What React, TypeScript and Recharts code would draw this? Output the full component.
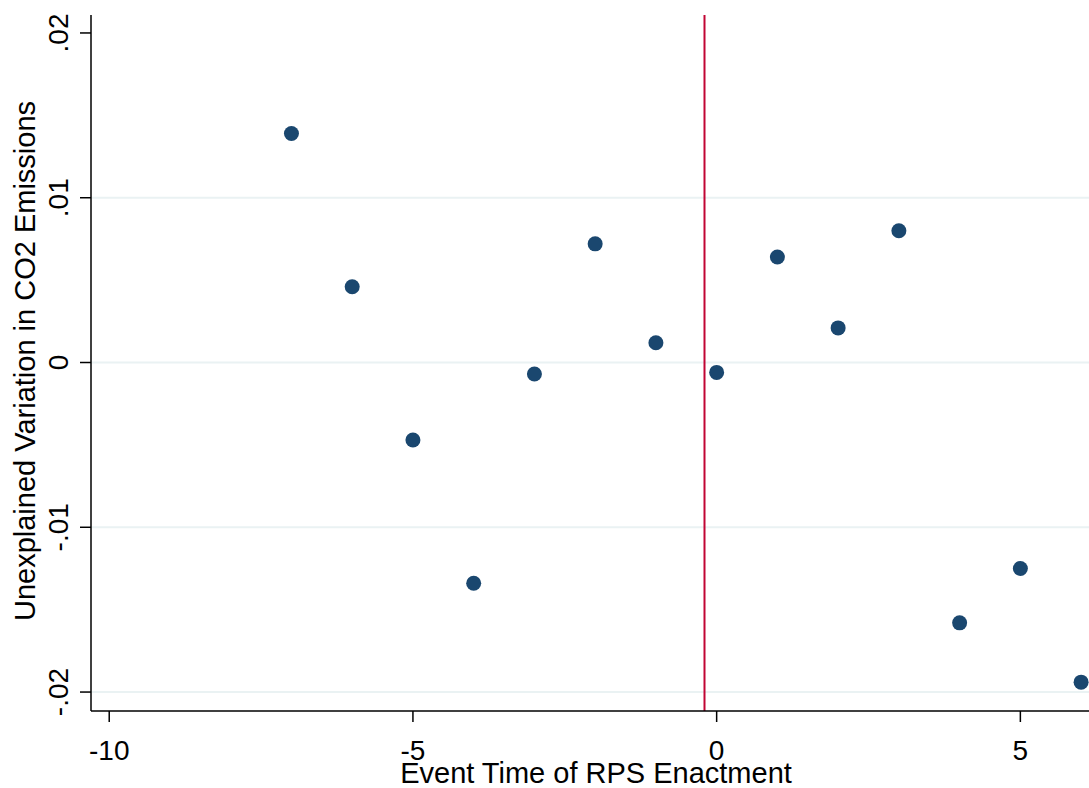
import React from 'react';
import { ScatterChart, Scatter, XAxis, YAxis, ReferenceLine } from 'recharts';

// Event time (years relative to RPS enactment)
const eventTimes = [-7, -6, -5, -4, -3, -2, -1, 0, 1, 2, 3, 4, 5, 6];
// Unexplained variation in CO2 emissions
const residuals = [
    0.0139, 0.0046, -0.0047, -0.0134, -0.0007, 0.0072, 0.0012,
    -0.0006, 0.0064, 0.0021, 0.0080, -0.0158, -0.0125, -0.0194,
];

const xTicks = [-10, -5, 0, 5];
const yTicks = [-0.02, -0.01, 0, 0.01, 0.02];
const yTickLabels = ['-.02', '-.01', '0', '.01', '.02'];
const gridValues = [-0.02, -0.01, 0, 0.01];
const enactmentLine = -0.2;

const FONT = '"Liberation Sans", Arial, Helvetica, sans-serif';
const NAVY = '#1a476f';

const data = eventTimes.map((t, i) => ({ t, v: residuals[i] }));

const XTick = ({ x, y, payload }: any) => (
    <g>
        <line x1={x} x2={x} y1={y - 8} y2={y + 3} stroke="#000" strokeWidth={1.5} />
        <text x={x} y={y + 41} textAnchor="middle" fontSize={28} fontFamily={FONT} fill="#000">
            {payload.value}
        </text>
    </g>
);

const YTick = ({ x, y, payload }: any) => {
    const idx = yTicks.indexOf(payload.value);
    const label = idx >= 0 ? yTickLabels[idx] : String(payload.value);
    return (
        <g>
            <line x1={x - 3} x2={x + 8} y1={y} y2={y} stroke="#000" strokeWidth={1.5} />
            <text
                x={0}
                y={0}
                transform={`translate(${x - 15}, ${y}) rotate(-90)`}
                textAnchor="middle"
                fontSize={28}
                fontFamily={FONT}
                fill="#000"
            >
                {label}
            </text>
        </g>
    );
};

const Dot = ({ cx, cy }: any) => <circle cx={cx} cy={cy} r={7.5} fill={NAVY} />;

export default function App() {
    return (
        <div style={{ position: 'absolute', left: 0, top: 0, width: 1089, height: 788, background: '#fff' }}>
            <ScatterChart width={1089} height={788} margin={{ top: 15, right: 0, bottom: 0, left: 0 }}>
                {gridValues.map((g) => (
                    <ReferenceLine key={`g${g}`} y={g} stroke="#eaf2f3" strokeWidth={2} />
                ))}
                <XAxis
                    type="number"
                    dataKey="t"
                    domain={[-10.3, 6.13]}
                    ticks={xTicks}
                    allowDataOverflow
                    height={77}
                    axisLine={{ stroke: '#000', strokeWidth: 1.5 }}
                    tickLine={false}
                    tick={<XTick />}
                    interval={0}
                    label={{
                        value: 'Event Time of RPS Enactment',
                        position: 'insideBottom',
                        offset: 5,
                        fontSize: 29,
                        fontFamily: FONT,
                        fill: '#000',
                        dx: 6,
                    }}
                />
                <YAxis
                    type="number"
                    dataKey="v"
                    domain={[-0.02115, 0.02109]}
                    ticks={yTicks}
                    allowDataOverflow
                    width={91}
                    axisLine={{ stroke: '#000', strokeWidth: 1.5 }}
                    tickLine={false}
                    tick={<YTick />}
                    interval={0}
                    label={{
                        value: 'Unexplained Variation in CO2 Emissions',
                        angle: -90,
                        position: 'insideLeft',
                        offset: 0,
                        fontSize: 29,
                        fontFamily: FONT,
                        fill: '#000',
                        dx: 25,
                        dy: -2,
                        style: { textAnchor: 'middle' },
                    }}
                />
                <ReferenceLine x={enactmentLine} stroke="#c10534" strokeWidth={2} />
                <Scatter data={data} fill={NAVY} shape={<Dot />} isAnimationActive={false} />
            </ScatterChart>
        </div>
    );
}
